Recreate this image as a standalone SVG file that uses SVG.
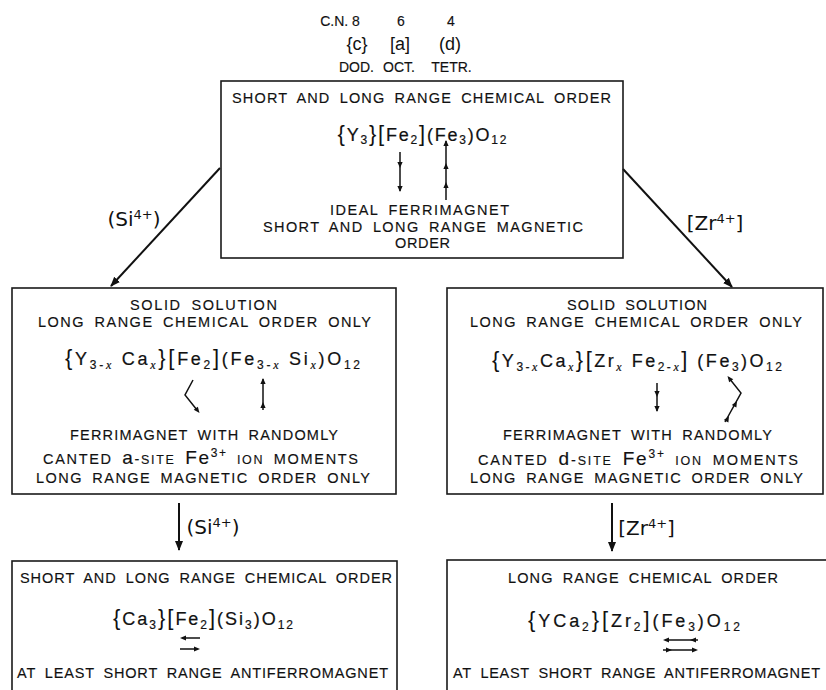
<svg xmlns="http://www.w3.org/2000/svg" width="826" height="690" viewBox="0 0 826 690">
<style>
.box{fill:none;stroke:#1a1a1a;stroke-width:1.6}
.con{fill:none;stroke:#111;stroke-width:2}
.spin{fill:none;stroke:#111;stroke-width:1.5}
.t{font-family:"Liberation Sans",Arial,sans-serif;font-size:14.5px;fill:#111;stroke:#111;stroke-width:0.15;text-anchor:middle;word-spacing:4px}
.f{font-family:"Liberation Sans",Arial,sans-serif;font-size:18px;fill:#111;stroke:#111;stroke-width:0.2;text-anchor:middle}
.l{font-family:"DejaVu Sans",sans-serif;font-size:20px;fill:#111;text-anchor:middle}
.lsup{font-size:13px}
.h{font-family:"Liberation Sans",Arial,sans-serif;font-size:14px;fill:#111;stroke:#111;stroke-width:0.15;text-anchor:middle}
.b{font-family:"Liberation Sans",Arial,sans-serif;font-size:18px;fill:#111;text-anchor:middle}
.sub{font-size:12px}
.br{font-size:22px;stroke-width:0}
.x{font-family:"Liberation Serif","Times New Roman",serif;font-style:italic}
.sm{font-size:12.5px}
</style>
<defs>
<marker id="arr" viewBox="0 0 10 10" refX="9" refY="5" markerWidth="5" markerHeight="5" orient="auto" markerUnits="strokeWidth">
<path d="M0,1 L10,5 L0,9 Z" fill="#111"/>
</marker>
<path id="ah" d="M0,0 L-6,-2.6 L-6,2.6 Z" fill="#111"/>
</defs>

<g id="header">
<text class="h" x="340" y="26">C.N. 8</text>
<text class="h" x="401" y="26">6</text>
<text class="h" x="451" y="26">4</text>
<text class="b" x="357" y="50">{c}</text>
<text class="b" x="400" y="50">[a]</text>
<text class="b" x="450" y="50">(d)</text>
<text class="h" x="356.5" y="72" font-size="12.5">DOD.</text>
<text class="h" x="399" y="72" font-size="12.5">OCT.</text>
<text class="h" x="451.5" y="72" font-size="12.5">TETR.</text>
</g>

<g id="connectors">
<line class="con" x1="220" y1="168" x2="111" y2="286" marker-end="url(#arr)"/>
<line class="con" x1="623" y1="169" x2="732" y2="287" marker-end="url(#arr)"/>
<line class="con" x1="179" y1="503" x2="179" y2="550" marker-end="url(#arr)"/>
<line class="con" x1="612" y1="503" x2="612" y2="551" marker-end="url(#arr)"/>
<text class="l" x="134" y="226">(Si<tspan class="lsup" dy="-7">4+</tspan><tspan dy="7">)</tspan></text>
<text class="l" x="715" y="230">[Zr<tspan class="lsup" dy="-7">4+</tspan><tspan dy="7">]</tspan></text>
<text class="l" x="213" y="534">(Si<tspan class="lsup" dy="-7">4+</tspan><tspan dy="7">)</tspan></text>
<text class="l" x="646.5" y="535">[Zr<tspan class="lsup" dy="-7">4+</tspan><tspan dy="7">]</tspan></text>
</g>

<g id="node-top">
<rect class="box" x="221" y="81" width="402" height="177"/>
<text class="t" x="421.5" y="103" textLength="379" lengthAdjust="spacing">SHORT AND LONG RANGE CHEMICAL ORDER</text>
<text class="f" x="422" y="141" textLength="169" lengthAdjust="spacing"><tspan class="br">{</tspan>Y<tspan class="sub" dy="3">3</tspan><tspan class="br" dy="-3">}</tspan><tspan class="br">[</tspan>Fe<tspan class="sub" dy="3">2</tspan><tspan class="br" dy="-3">]</tspan>(Fe<tspan class="sub" dy="3">3</tspan><tspan dy="-3">)</tspan>O<tspan class="sub" dy="3">12</tspan></text>
<line class="spin" x1="400" y1="152" x2="400" y2="191"/>
<use href="#ah" transform="translate(400,168) rotate(90)"/>
<use href="#ah" transform="translate(400,192) rotate(90)"/>
<line class="spin" x1="446" y1="200" x2="446" y2="141"/>
<use href="#ah" transform="translate(446,140) rotate(-90)"/>
<use href="#ah" transform="translate(446,163) rotate(-90)"/>
<use href="#ah" transform="translate(446,182) rotate(-90)"/>
<text class="t" x="419.5" y="215" textLength="179" lengthAdjust="spacing">IDEAL FERRIMAGNET</text>
<text class="t" x="423" y="232" textLength="320" lengthAdjust="spacing">SHORT AND LONG RANGE MAGNETIC</text>
<text class="t" x="422.5" y="248" textLength="55" lengthAdjust="spacing">ORDER</text>
</g>

<g id="node-mid-left">
<rect class="box" x="12" y="288" width="384" height="206"/>
<text class="t" x="203.5" y="310" textLength="147" lengthAdjust="spacing">SOLID SOLUTION</text>
<text class="t" x="204.5" y="327" textLength="333" lengthAdjust="spacing">LONG RANGE CHEMICAL ORDER ONLY</text>
<text class="f" x="212.5" y="365" textLength="295" lengthAdjust="spacing"><tspan class="br">{</tspan>Y<tspan class="sub" dy="4">3-<tspan class="x">x</tspan></tspan><tspan dy="-4"> Ca</tspan><tspan class="sub" dy="4"><tspan class="x">x</tspan></tspan><tspan class="br" dy="-4">}</tspan><tspan class="br">[</tspan>Fe<tspan class="sub" dy="4">2</tspan><tspan class="br" dy="-4">]</tspan>(Fe<tspan class="sub" dy="4">3-<tspan class="x">x</tspan></tspan><tspan dy="-4"> Si</tspan><tspan class="sub" dy="4"><tspan class="x">x</tspan></tspan><tspan dy="-4">)</tspan>O<tspan class="sub" dy="4">12</tspan></text>
<path class="spin" d="M193,380 L185,395 L197,410"/>
<use href="#ah" transform="translate(199.5,413) rotate(52)"/>
<line class="spin" x1="263" y1="379" x2="263" y2="410"/>
<use href="#ah" transform="translate(263,378) rotate(-90)"/>
<use href="#ah" transform="translate(263,402) rotate(-90)"/>
<text class="t" x="204" y="440" textLength="268" lengthAdjust="spacing">FERRIMAGNET WITH RANDOMLY</text>
<text class="t" x="200.5" y="464" textLength="315" lengthAdjust="spacing">CANTED <tspan font-size="19">a</tspan>-<tspan class="sm">SITE</tspan> <tspan font-size="19">Fe</tspan><tspan class="sub" dy="-7">3+</tspan><tspan class="sm" dy="7"> ION</tspan> MOMENTS</text>
<text class="t" x="203" y="483" textLength="334" lengthAdjust="spacing">LONG RANGE MAGNETIC ORDER ONLY</text>
</g>

<g id="node-mid-right">
<rect class="box" x="447" y="288" width="376" height="206"/>
<text class="t" x="637" y="310" textLength="140" lengthAdjust="spacing">SOLID SOLUTION</text>
<text class="t" x="636" y="327" textLength="332" lengthAdjust="spacing">LONG RANGE CHEMICAL ORDER ONLY</text>
<text class="f" x="637" y="367" textLength="290" lengthAdjust="spacing"><tspan class="br">{</tspan>Y<tspan class="sub" dy="4">3-<tspan class="x">x</tspan></tspan><tspan dy="-4">Ca</tspan><tspan class="sub" dy="4"><tspan class="x">x</tspan></tspan><tspan class="br" dy="-4">}</tspan><tspan class="br">[</tspan>Zr<tspan class="sub" dy="4"><tspan class="x">x</tspan></tspan><tspan dy="-4"> Fe</tspan><tspan class="sub" dy="4">2-<tspan class="x">x</tspan></tspan><tspan class="br" dy="-4">]</tspan> (Fe<tspan class="sub" dy="4">3</tspan><tspan dy="-4">)</tspan>O<tspan class="sub" dy="4">12</tspan></text>
<line class="spin" x1="657" y1="383" x2="657" y2="411"/>
<use href="#ah" transform="translate(657,397) rotate(90)"/>
<use href="#ah" transform="translate(657,412) rotate(90)"/>
<path class="spin" d="M725,422 L741,393 L729,378"/>
<use href="#ah" transform="translate(727.5,376) rotate(-128)"/>
<use href="#ah" transform="translate(737,401) rotate(-61)"/>
<use href="#ah" transform="translate(729,416) rotate(-61)"/>
<text class="t" x="637.5" y="440" textLength="269" lengthAdjust="spacing">FERRIMAGNET WITH RANDOMLY</text>
<text class="t" x="638" y="465" textLength="320" lengthAdjust="spacing">CANTED <tspan font-size="19">d</tspan>-<tspan class="sm">SITE</tspan> <tspan font-size="19">Fe</tspan><tspan class="sub" dy="-7">3+</tspan><tspan class="sm" dy="7"> ION</tspan> MOMENTS</text>
<text class="t" x="636.5" y="483" textLength="333" lengthAdjust="spacing">LONG RANGE MAGNETIC ORDER ONLY</text>
</g>

<g id="node-bottom-left">
<rect class="box" x="12" y="561" width="385" height="140"/>
<text class="t" x="206" y="583" textLength="372" lengthAdjust="spacing">SHORT AND LONG RANGE CHEMICAL ORDER</text>
<text class="f" x="203" y="625" textLength="180" lengthAdjust="spacing"><tspan class="br">{</tspan>Ca<tspan class="sub" dy="4">3</tspan><tspan class="br" dy="-4">}</tspan><tspan class="br">[</tspan>Fe<tspan class="sub" dy="4">2</tspan><tspan class="br" dy="-4">]</tspan>(Si<tspan class="sub" dy="4">3</tspan><tspan dy="-4">)</tspan>O<tspan class="sub" dy="4">12</tspan></text>
<line class="spin" x1="200" y1="638" x2="183" y2="638"/>
<use href="#ah" transform="translate(180,638) rotate(180)"/>
<line class="spin" x1="180" y1="649" x2="197" y2="649"/>
<use href="#ah" transform="translate(200,649)"/>
<text class="t" x="202.5" y="678" textLength="371" lengthAdjust="spacing">AT LEAST SHORT RANGE ANTIFERROMAGNET</text>
</g>

<g id="node-bottom-right">
<rect class="box" x="447" y="560" width="385" height="140"/>
<text class="t" x="643" y="583" textLength="270" lengthAdjust="spacing">LONG RANGE CHEMICAL ORDER</text>
<text class="f" x="634" y="627" textLength="212" lengthAdjust="spacing"><tspan class="br">{</tspan>YCa<tspan class="sub" dy="4">2</tspan><tspan class="br" dy="-4">}</tspan><tspan class="br">[</tspan>Zr<tspan class="sub" dy="4">2</tspan><tspan class="br" dy="-4">]</tspan>(Fe<tspan class="sub" dy="4">3</tspan><tspan dy="-4">)</tspan>O<tspan class="sub" dy="4">12</tspan></text>
<line class="spin" x1="698" y1="640" x2="666" y2="640"/>
<use href="#ah" transform="translate(663,640) rotate(180)"/>
<use href="#ah" transform="translate(690,640) rotate(180)"/>
<line class="spin" x1="663" y1="650" x2="695" y2="650"/>
<use href="#ah" transform="translate(672,650)"/>
<use href="#ah" transform="translate(698,650)"/>
<text class="t" x="636.5" y="678" textLength="367" lengthAdjust="spacing">AT LEAST SHORT RANGE ANTIFERROMAGNET</text>
</g>
</svg>
